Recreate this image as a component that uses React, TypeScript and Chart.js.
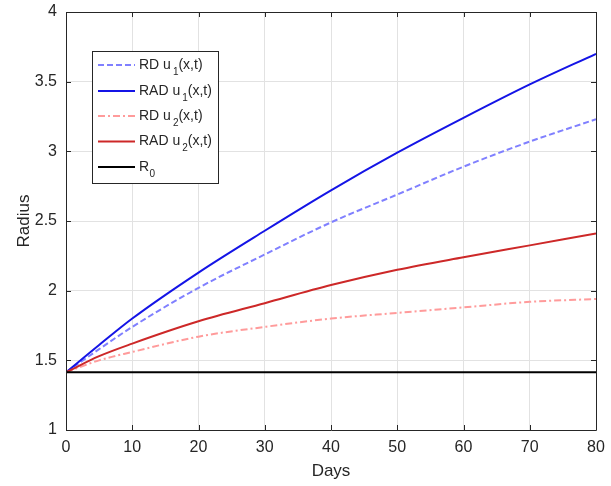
import React, { useEffect, useRef } from "react";
import { Chart, registerables } from "chart.js";

Chart.register(...registerables);

const days = [0, 5, 10, 20, 30, 40, 50, 60, 70, 80];
const radU1 = [1.414, 1.61, 1.8, 2.13, 2.43, 2.72, 2.99, 3.24, 3.48, 3.7];
const rdU1 = [1.414, 1.58, 1.74, 2.02, 2.26, 2.49, 2.69, 2.89, 3.07, 3.23];
const radU2 = [1.414, 1.53, 1.62, 1.78, 1.91, 2.04, 2.15, 2.24, 2.325, 2.41];
const rdU2 = [1.414, 1.5, 1.56, 1.67, 1.74, 1.8, 1.84, 1.88, 1.92, 1.94];
const r0 = [1.414, 1.414, 1.414, 1.414, 1.414, 1.414, 1.414, 1.414, 1.414, 1.414];

const xTicks = [0, 10, 20, 30, 40, 50, 60, 70, 80];
const yTicks = [1, 1.5, 2, 2.5, 3, 3.5, 4];

const legendItems = [
  { pre: "RD u", sub: "1", post: "(x,t)", color: "rgb(128,128,255)", dash: [6, 3] },
  { pre: "RAD u", sub: "1", post: "(x,t)", color: "rgb(20,20,230)", dash: [] },
  { pre: "RD u", sub: "2", post: "(x,t)", color: "rgb(255,155,155)", dash: [7, 3, 2, 3] },
  { pre: "RAD u", sub: "2", post: "(x,t)", color: "rgb(205,40,40)", dash: [] },
  { pre: "R", sub: "0", post: "", color: "#000000", dash: [] },
];

const FONT = "'Liberation Sans', Arial, sans-serif";
const AXIS = "#262626";

const pts = (ys: number[]) => days.map((d, i) => ({ x: d, y: ys[i] }));

const framePlugin = {
  id: "frame",
  afterDraw(chart: any) {
    const { ctx, chartArea } = chart;
    const { left, right, top, bottom } = chartArea;
    const xs = chart.scales.x;
    const ys = chart.scales.y;
    ctx.save();
    ctx.strokeStyle = AXIS;
    ctx.lineWidth = 1;
    ctx.setLineDash([]);
    ctx.beginPath();
    ctx.rect(Math.round(left) + 0.5, Math.round(top) + 0.5, Math.round(right - left), Math.round(bottom - top));
    ctx.stroke();
    const L = 5;
    ctx.beginPath();
    xTicks.forEach((v) => {
      const px = Math.round(xs.getPixelForValue(v)) + 0.5;
      ctx.moveTo(px, bottom);
      ctx.lineTo(px, bottom - L);
      ctx.moveTo(px, top);
      ctx.lineTo(px, top + L);
    });
    yTicks.forEach((v) => {
      const py = Math.round(ys.getPixelForValue(v)) + 0.5;
      ctx.moveTo(left, py);
      ctx.lineTo(left + L, py);
      ctx.moveTo(right, py);
      ctx.lineTo(right - L, py);
    });
    ctx.stroke();

    // legend
    const bx = 92, by = 51, bw = 126, bh = 132;
    ctx.fillStyle = "#ffffff";
    ctx.fillRect(bx, by, bw, bh);
    ctx.strokeStyle = AXIS;
    ctx.strokeRect(bx + 0.5, by + 0.5, bw, bh);
    const rowY = [65, 91, 116, 141.5, 167];
    legendItems.forEach((it, i) => {
      const y = rowY[i];
      ctx.strokeStyle = it.color;
      ctx.lineWidth = 2;
      ctx.setLineDash(it.dash);
      ctx.beginPath();
      ctx.moveTo(98, y);
      ctx.lineTo(135, y);
      ctx.stroke();
      ctx.setLineDash([]);
      ctx.fillStyle = AXIS;
      ctx.textBaseline = "middle";
      ctx.textAlign = "left";
      ctx.font = `14px ${FONT}`;
      let x = 139;
      ctx.fillText(it.pre, x, y);
      x += ctx.measureText(it.pre).width + (it.post ? 2 : 0.5);
      ctx.font = `10px ${FONT}`;
      ctx.fillText(it.sub, x, y + 7);
      x += ctx.measureText(it.sub).width;
      ctx.font = `14px ${FONT}`;
      if (it.post) ctx.fillText(it.post, x, y);
    });
    ctx.restore();
  },
};

export default function App() {
  const ref = useRef<HTMLCanvasElement>(null);
  useEffect(() => {
    if (!ref.current) return;
    const mk = (label: string, data: number[], color: string, dash: number[], order: number) => ({
      label,
      data: pts(data),
      borderColor: color,
      backgroundColor: color,
      borderWidth: 2,
      borderDash: dash,
      pointRadius: 0,
      cubicInterpolationMode: "monotone" as const,
      fill: false,
      order,
    });
    const chart = new Chart(ref.current, {
      type: "line",
      data: {
        datasets: [
          mk("RD u1(x,t)", rdU1, legendItems[0].color, legendItems[0].dash, 4),
          mk("RAD u1(x,t)", radU1, legendItems[1].color, [], 3),
          mk("RD u2(x,t)", rdU2, legendItems[2].color, legendItems[2].dash, 2),
          mk("RAD u2(x,t)", radU2, legendItems[3].color, [], 1),
          mk("R0", r0, "#000000", [], 0),
        ],
      },
      options: {
        animation: false,
        responsive: false,
        maintainAspectRatio: false,
        layout: { padding: { left: 0, top: 12, right: 15, bottom: 0 } },
        plugins: { legend: { display: false }, tooltip: { enabled: false } },
        scales: {
          x: {
            type: "linear",
            min: 0,
            max: 80,
            afterBuildTicks: (s: any) => {
              s.ticks = xTicks.map((v) => ({ value: v }));
            },
            afterFit: (s: any) => {
              s.height = 56;
              s.paddingLeft = 0;
              s.paddingRight = 0;
            },
            grid: { color: "#e2e2e2", drawTicks: false, lineWidth: 1 },
            border: { display: false },
            ticks: { color: AXIS, font: { family: FONT, size: 16 }, padding: 8, maxRotation: 0, callback: (v: any) => String(v) },
            title: { display: true, text: "Days", color: AXIS, font: { family: FONT, size: 17 }, padding: { top: 0, bottom: 4 } },
          },
          y: {
            type: "linear",
            min: 1,
            max: 4,
            afterBuildTicks: (s: any) => {
              s.ticks = yTicks.map((v) => ({ value: v }));
            },
            afterFit: (s: any) => {
              s.width = 66;
              s.paddingTop = 0;
              s.paddingBottom = 0;
            },
            grid: { color: "#e2e2e2", drawTicks: false, lineWidth: 1 },
            border: { display: false },
            ticks: { color: AXIS, font: { family: FONT, size: 16 }, padding: 9, callback: (v: any) => String(v) },
            title: { display: true, text: "Radius", color: AXIS, font: { family: FONT, size: 17 }, padding: { top: 14, bottom: 0 } },
          },
        },
      },
      plugins: [framePlugin],
    } as any);
    return () => chart.destroy();
  }, []);
  return (
    <div style={{ position: "fixed", left: 0, top: 0, width: 611, height: 486, background: "#fff" }}>
      <canvas ref={ref} width={611} height={486} style={{ width: 611, height: 486 }} />
    </div>
  );
}
